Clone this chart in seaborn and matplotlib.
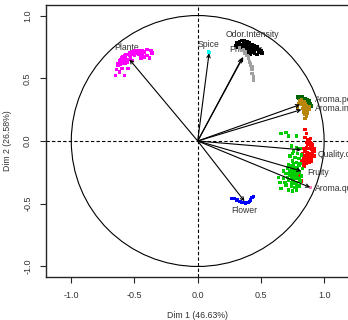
import numpy as np
import pandas as pd
import matplotlib
matplotlib.use("Agg")
import matplotlib.pyplot as plt
import seaborn as sns
from matplotlib.patches import Circle

# variables: arrow end points (Dim 1, Dim 2)
variables = ["Plante", "Spice", "Odor.Intensity", "Phenolic", "Aroma.persistency",
             "Aroma.intensity", "Quality.of.odour", "Fruity", "Aroma.quality", "Flower"]
dim1 = [-0.54, 0.09, 0.36, 0.35, 0.81, 0.82, 0.82, 0.82, 0.89, 0.37]
dim2 = [0.65, 0.70, 0.67, 0.66, 0.29, 0.25, -0.07, -0.24, -0.37, -0.48]
colors = ["#FF00FF", "#00FFFF", "#000000", "#A0A0A0", "#006400",
          "#B8860B", "#FF0000", "#00CC00", "#FF80C0", "#0000FF"]

# label anchor points
lab_x = [-0.563, 0.087, 0.436, 0.246, 0.927, 0.927, 0.951, 0.864, 0.927, 0.372]
lab_y = [0.749, 0.773, 0.845, 0.733, 0.327, 0.260, -0.104, -0.255, -0.375, -0.557]
lab_ha = ["center", "center", "center", "left", "left", "left", "left", "left", "left", "center"]

# resampled variable coordinates (clouds)
plante_x = [-0.63, -0.62, -0.61, -0.60, -0.58, -0.56, -0.54, -0.52, -0.50, -0.48, -0.46, -0.44, -0.42,
            -0.65, -0.62, -0.58, -0.55, -0.57, -0.40, -0.37, -0.36, -0.40, -0.45, -0.52, -0.60, -0.64,
            -0.55, -0.50, -0.47, -0.59, -0.53, -0.49, -0.44, -0.42, -0.38, -0.61, -0.57, -0.51, -0.45, -0.56,
            -0.62, -0.59, -0.57, -0.54, -0.52, -0.49, -0.47, -0.58, -0.60, -0.63]
plante_y = [0.60, 0.63, 0.65, 0.66, 0.68, 0.69, 0.70, 0.71, 0.72, 0.72, 0.72, 0.72, 0.71,
            0.52, 0.55, 0.52, 0.58, 0.62, 0.73, 0.72, 0.70, 0.68, 0.66, 0.64, 0.58, 0.57,
            0.65, 0.68, 0.69, 0.62, 0.67, 0.70, 0.69, 0.67, 0.66, 0.61, 0.66, 0.70, 0.71, 0.63,
            0.64, 0.67, 0.69, 0.68, 0.69, 0.71, 0.70, 0.64, 0.63, 0.62]
spice_x = [0.087, 0.09]
spice_y = [0.71, 0.705]
odor_x = [0.31, 0.33, 0.35, 0.37, 0.39, 0.41, 0.43, 0.45, 0.47, 0.49, 0.50, 0.51, 0.34, 0.36, 0.38,
          0.40, 0.42, 0.44, 0.46, 0.48, 0.35, 0.37, 0.39, 0.41, 0.43, 0.30, 0.32, 0.45, 0.47, 0.38,
          0.40, 0.42, 0.44, 0.36, 0.39, 0.41, 0.43, 0.45, 0.37, 0.33]
odor_y = [0.78, 0.79, 0.80, 0.80, 0.79, 0.78, 0.77, 0.76, 0.75, 0.73, 0.72, 0.70, 0.77, 0.78, 0.77,
          0.76, 0.75, 0.74, 0.73, 0.71, 0.75, 0.74, 0.73, 0.72, 0.71, 0.76, 0.75, 0.70, 0.69, 0.71,
          0.70, 0.69, 0.73, 0.72, 0.75, 0.74, 0.74, 0.72, 0.76, 0.77]
phen_x = [0.33, 0.35, 0.37, 0.39, 0.40, 0.41, 0.42, 0.43, 0.43, 0.44, 0.44, 0.36, 0.38, 0.40, 0.42, 0.43]
phen_y = [0.74, 0.72, 0.70, 0.68, 0.66, 0.63, 0.60, 0.57, 0.54, 0.51, 0.48, 0.73, 0.71, 0.67, 0.62, 0.59]
apers_x = [0.79, 0.81, 0.83, 0.85, 0.87, 0.88, 0.89, 0.90, 0.80, 0.84, 0.86, 0.88, 0.89]
apers_y = [0.35, 0.35, 0.35, 0.34, 0.33, 0.32, 0.30, 0.28, 0.34, 0.33, 0.32, 0.30, 0.29]
aint_x = [0.81, 0.83, 0.85, 0.86, 0.87, 0.87, 0.87, 0.86, 0.85, 0.80, 0.82, 0.84, 0.85, 0.86, 0.86,
          0.88, 0.88, 0.84, 0.82, 0.85, 0.84, 0.79, 0.83]
aint_y = [0.32, 0.31, 0.30, 0.28, 0.26, 0.24, 0.22, 0.20, 0.18, 0.30, 0.29, 0.28, 0.26, 0.24, 0.22,
          0.25, 0.27, 0.31, 0.33, 0.21, 0.23, 0.27, 0.26]
qual_x = [0.85, 0.86, 0.85, 0.87, 0.88, 0.89, 0.90, 0.87, 0.89, 0.91, 0.86, 0.88, 0.90, 0.92, 0.85,
          0.87, 0.89, 0.91, 0.86, 0.88, 0.90, 0.84, 0.87, 0.89, 0.85, 0.88, 0.86, 0.84, 0.91, 0.92,
          0.83, 0.89, 0.84, 0.90, 0.82, 0.80, 0.82, 0.88, 0.90, 0.86, 0.87, 0.91, 0.89, 0.85, 0.88,
          0.86, 0.90, 0.87, 0.92, 0.84]
qual_y = [0.09, 0.06, 0.03, 0.01, 0.00, -0.01, -0.02, -0.03, -0.04, -0.05, -0.05, -0.06, -0.07, -0.08, -0.08,
          -0.09, -0.10, -0.11, -0.11, -0.12, -0.13, -0.13, -0.14, -0.15, -0.16, -0.17, -0.18, -0.20, -0.03, -0.12,
          -0.10, 0.02, -0.06, -0.16, -0.16, -0.27, -0.32, -0.02, -0.10, -0.01, -0.06, -0.09, -0.13, -0.12, -0.15,
          -0.14, -0.04, -0.11, -0.06, -0.17]
fruity_x = [0.66, 0.70, 0.72, 0.78, 0.74, 0.78, 0.81, 0.76, 0.79, 0.82, 0.73, 0.77, 0.80, 0.75, 0.78,
            0.81, 0.72, 0.76, 0.79, 0.83, 0.74, 0.77, 0.80, 0.70, 0.73, 0.76, 0.79, 0.82, 0.68, 0.72,
            0.75, 0.78, 0.81, 0.65, 0.70, 0.74, 0.77, 0.80, 0.66, 0.72, 0.75, 0.78, 0.64, 0.68, 0.71,
            0.75, 0.77, 0.79, 0.74, 0.76, 0.73, 0.78, 0.80, 0.76, 0.78, 0.75, 0.77, 0.79, 0.74, 0.76,
            0.78, 0.80, 0.73, 0.71, 0.69, 0.76]
fruity_y = [0.06, 0.07, 0.04, 0.04, -0.04, -0.05, -0.06, -0.08, -0.10, -0.11, -0.12, -0.13, -0.14, -0.16, -0.17,
            -0.18, -0.19, -0.20, -0.21, -0.22, -0.23, -0.24, -0.25, -0.26, -0.27, -0.28, -0.29, -0.28, -0.30, -0.31,
            -0.32, -0.33, -0.32, -0.33, -0.35, -0.36, -0.37, -0.36, -0.38, -0.39, -0.40, -0.39, -0.29, -0.24, -0.22,
            -0.10, -0.30, -0.26, -0.29, -0.34, -0.20, -0.22, -0.19, -0.25, -0.27, -0.26, -0.21, -0.23, -0.33, -0.31,
            -0.35, -0.30, -0.24, -0.29, -0.33, -0.18]
aqual_x = [0.89]
aqual_y = [-0.37]
flower_x = [0.27, 0.29, 0.31, 0.33, 0.35, 0.37, 0.39, 0.41, 0.42, 0.43, 0.44, 0.34, 0.38, 0.40]
flower_y = [-0.46, -0.46, -0.47, -0.48, -0.49, -0.49, -0.49, -0.48, -0.47, -0.45, -0.44, -0.48, -0.50, -0.49]

clouds = {
    "Plante": (plante_x, plante_y), "Spice": (spice_x, spice_y),
    "Odor.Intensity": (odor_x, odor_y), "Phenolic": (phen_x, phen_y),
    "Aroma.persistency": (apers_x, apers_y), "Aroma.intensity": (aint_x, aint_y),
    "Quality.of.odour": (qual_x, qual_y), "Fruity": (fruity_x, fruity_y),
    "Aroma.quality": (aqual_x, aqual_y), "Flower": (flower_x, flower_y),
}
rows = []
for name, (xs, ys) in clouds.items():
    for a, b in zip(xs, ys):
        rows.append((name, a, b))
df = pd.DataFrame(rows, columns=["variable", "Dim1", "Dim2"])

sns.set_style("ticks")
plt.rcParams["font.family"] = ["Liberation Sans", "DejaVu Sans"]

fig = plt.figure(figsize=(3.48, 3.2), dpi=100)
ax = fig.add_axes([46 / 348, 43 / 320, 303.4 / 348, 272 / 320])
ax.set_xlim(-1.2, 1.2)
ax.set_ylim(-1.084, 1.084)

ax.add_patch(Circle((0, 0), 1, fill=False, color="black", lw=0.8))
ax.axhline(0, color="black", ls="--", lw=0.8, dashes=(3, 2))
ax.axvline(0, color="black", ls="--", lw=0.8, dashes=(3, 2))

for i, v in enumerate(variables):
    ax.text(lab_x[i], lab_y[i], v, ha=lab_ha[i], va="center", fontsize=6.2,
            color="#333333", zorder=2)

sns.scatterplot(data=df, x="Dim1", y="Dim2", hue="variable",
                palette=dict(zip(variables, colors)), marker="s", s=6,
                linewidth=0, legend=False, ax=ax, zorder=3)

for i, v in enumerate(variables):
    ax.annotate("", xy=(dim1[i], dim2[i]), xytext=(0, 0),
                arrowprops=dict(arrowstyle="->", lw=0.8, color="black",
                                shrinkA=0, shrinkB=0, mutation_scale=6),
                zorder=4)

ax.set_xticks([-1.0, -0.5, 0.0, 0.5, 1.0])
ax.set_yticks([-1.0, -0.5, 0.0, 0.5, 1.0])
ax.set_xticklabels(["-1.0", "-0.5", "0.0", "0.5", "1.0"], fontsize=6.5, color="#333333")
ax.set_yticklabels(["-1.0", "-0.5", "0.0", "0.5", "1.0"], fontsize=6.5, color="#333333",
                   rotation=90, va="center")
ax.tick_params(direction="out", length=4, width=0.8, pad=6)
for sp in ax.spines.values():
    sp.set_linewidth(1.0)
ax.set_xlabel("Dim 1 (46.63%)", fontsize=6.3, color="#333333", labelpad=8)
ax.set_ylabel("Dim 2 (26.58%)", fontsize=6.3, color="#333333", labelpad=8)

fig.savefig("out.png", dpi=100)
